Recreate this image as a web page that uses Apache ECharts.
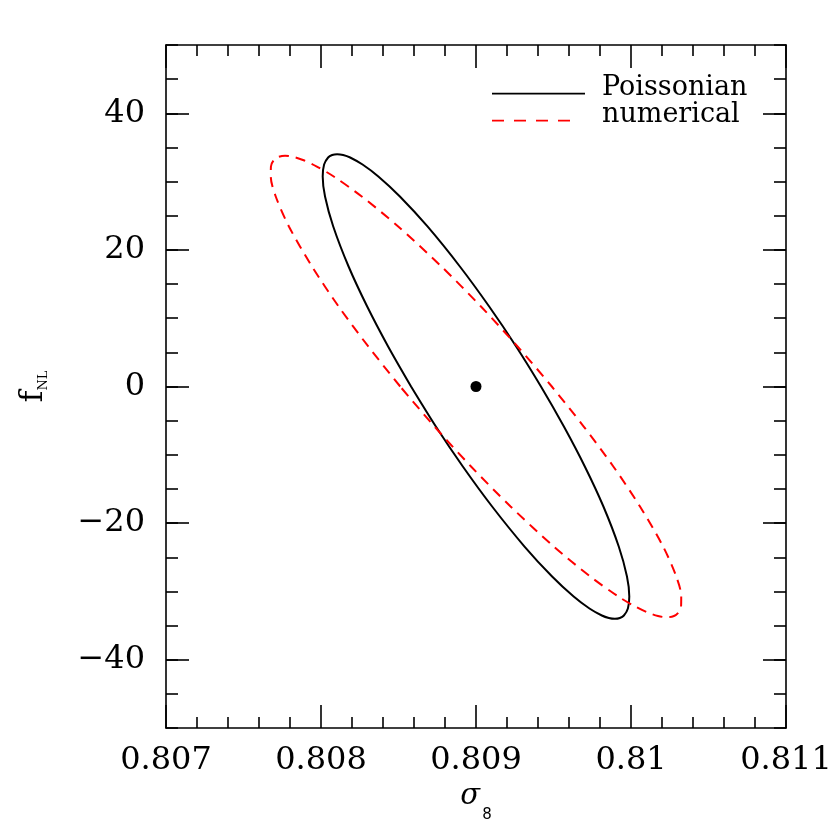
<!DOCTYPE html>
<html>
<head>
<meta charset="utf-8">
<script src="https://cdn.jsdelivr.net/npm/echarts@6/dist/echarts.min.js"></script>
<style>
  html, body { margin: 0; padding: 0; background: #fff; }
  #chart { width: 830px; height: 830px; }
</style>
</head>
<body>
<div id="chart"></div>
<script>
// tick labels
const yTicks = [-40, -20, 0, 20, 40]

// 1-sigma contours, [sigma8, fNL]
const poissonian = [
  [0.808581, 0], [0.808433, 5.86], [0.808298, 11.71], [0.808178, 17.57],
  [0.808079, 23.43], [0.808026, 27.82], [0.808011, 30.75], [0.808020, 32.50],
  [0.808046, 33.53], [0.808072, 33.90], [0.808104, 34.02], [0.808143, 33.90],
  [0.808188, 33.53], [0.808268, 32.50], [0.808370, 30.75], [0.808509, 27.82],
  [0.808687, 23.43], [0.808896, 17.57], [0.809085, 11.71], [0.809259, 5.86],
  [0.809419, 0], [0.809567, -5.86], [0.809702, -11.71], [0.809822, -17.57],
  [0.809921, -23.43], [0.809974, -27.82], [0.809989, -30.75], [0.809980, -32.50],
  [0.809954, -33.53], [0.809928, -33.90], [0.809896, -34.02], [0.809857, -33.90],
  [0.809812, -33.53], [0.809732, -32.50], [0.809630, -30.75], [0.809491, -27.82],
  [0.809313, -23.43], [0.809104, -17.57], [0.808915, -11.71], [0.808741, -5.86],
  [0.808581, 0]
]

const numerical = [
  [0.808511, 0], [0.808305, 5.86], [0.808114, 11.71], [0.807942, 17.57],
  [0.807793, 23.43], [0.807708, 27.82], [0.807676, 30.75], [0.807677, 32.21],
  [0.807694, 33.09], [0.807723, 33.60], [0.807768, 33.79], [0.807826, 33.60],
  [0.807893, 33.09], [0.807973, 32.21], [0.808082, 30.75], [0.808263, 27.82],
  [0.808498, 23.43], [0.808777, 17.57], [0.809032, 11.71], [0.809268, 5.86],
  [0.809489, 0], [0.809695, -5.86], [0.809886, -11.71], [0.810058, -17.57],
  [0.810207, -23.43], [0.810292, -27.82], [0.810324, -30.75], [0.810323, -32.21],
  [0.810306, -33.09], [0.810277, -33.60], [0.810232, -33.79], [0.810174, -33.60],
  [0.810107, -33.09], [0.810027, -32.21], [0.809918, -30.75], [0.809737, -27.82],
  [0.809502, -23.43], [0.809223, -17.57], [0.808968, -11.71], [0.808732, -5.86],
  [0.808511, 0]
]

const fiducial = [[0.809, 0]]

const font = 'DejaVu Serif'
const axisColor = '#000'

// legend keys: the line sits near the bottom of the icon box so the text
// ends up slightly above it (tiny dots only pin the box corners)
const solidKey = 'path://M0,0h.1v.1h-.1z M0,12.2h93v1.8h-93z'
const dashedKey = 'path://M0,0h.1v.1h-.1z M92.9,0h.1v.1h-.1z ' +
  'M0,12.2h12v1.8h-12z M22,12.2h12v1.8h-12z M44,12.2h12v1.8h-12z M66,12.2h12v1.8h-12z'

const chart = echarts.init(document.getElementById('chart'))

const xAxisBase = {
  type: 'value',
  min: 0.807,
  max: 0.811,
  interval: 0.001,
  axisLine: { show: true, onZero: false, lineStyle: { color: axisColor, width: 1.6 } },
  axisTick: { show: true, inside: true, length: 23, lineStyle: { color: axisColor, width: 1.6 } },
  minorTick: { show: true, splitNumber: 5, length: 11, lineStyle: { color: axisColor, width: 1.6 } },
  splitLine: { show: false },
  minorSplitLine: { show: false }
}

const yMinor = position => ({
  type: 'value',
  position: position,
  min: -50,
  max: 50,
  interval: 5,
  axisLine: { show: true, onZero: false, lineStyle: { color: axisColor, width: 1.6 } },
  axisTick: { show: true, inside: true, length: 12, lineStyle: { color: axisColor, width: 1.6 } },
  axisLabel: { show: false },
  splitLine: { show: false }
})

const yMajor = position => ({
  type: 'value',
  position: position,
  min: -50,
  max: 50,
  interval: 5,
  axisLine: { show: false, onZero: false },
  axisTick: { show: true, inside: true, length: 23, customValues: yTicks, lineStyle: { color: axisColor, width: 1.6 } },
  axisLabel: { show: false },
  splitLine: { show: false }
})

const yLeft = yMinor('left')
yLeft.axisLabel = {
  show: true,
  customValues: yTicks,
  margin: 21,
  color: '#000',
  fontFamily: font,
  fontSize: 32,
  formatter: v => (v < 0 ? '\u2212' + Math.abs(v) : String(v))
}
yLeft.name = '{f|f}{s|NL}'
yLeft.nameLocation = 'middle'
yLeft.nameRotate = 90
yLeft.nameGap = 116
yLeft.nameTextStyle = {
  rich: {
    f: { fontFamily: font, fontSize: 32, color: '#000', lineHeight: 32 },
    s: { fontFamily: font, fontSize: 13, color: '#000', lineHeight: 17, verticalAlign: 'bottom' }
  }
}

const option = {
  animation: false,
  backgroundColor: '#fff',
  grid: { left: 166, right: 44, top: 45, bottom: 102, containLabel: false, outerBoundsMode: 'none' },
  legend: {
    orient: 'vertical',
    left: 487,
    top: 69,
    itemWidth: 93,
    itemHeight: 14,
    itemGap: 0,
    selectedMode: false,
    itemStyle: { borderWidth: 0 },
    textStyle: {
      fontFamily: font,
      fontSize: 27,
      color: '#000',
      lineHeight: 27,
      padding: [0, 0, 0, 12]
    },
    data: [
      { name: 'Poissonian', icon: solidKey },
      { name: 'numerical', icon: dashedKey }
    ]
  },
  xAxis: [
    Object.assign({}, xAxisBase, {
      position: 'bottom',
      axisLabel: { margin: 17, color: '#000', fontFamily: font, fontSize: 32 },
      name: '{g|\u03c3}{s|8}',
      nameLocation: 'middle',
      nameGap: 50,
      nameTextStyle: {
        rich: {
          g: { fontFamily: font, fontStyle: 'italic', fontSize: 29, color: '#000', lineHeight: 29, verticalAlign: 'top' },
          s: { fontFamily: 'DejaVu Sans', fontSize: 15, color: '#000', lineHeight: 15, padding: [26, 0, 0, 2], verticalAlign: 'top' }
        }
      }
    }),
    Object.assign({}, xAxisBase, { position: 'top', axisLabel: { show: false } })
  ],
  yAxis: [yLeft, yMajor('left'), yMinor('right'), yMajor('right')],
  series: [
    {
      name: 'Poissonian',
      type: 'line',
      data: poissonian,
      smooth: 0.3,
      symbol: 'none',
      color: '#000',
      lineStyle: { color: '#000', width: 2 },
      silent: true
    },
    {
      name: 'numerical',
      type: 'line',
      data: numerical,
      smooth: 0.3,
      symbol: 'none',
      color: '#ff0000',
      lineStyle: { color: '#ff0000', width: 2, type: [10, 7] },
      silent: true
    },
    {
      name: 'fiducial',
      type: 'scatter',
      data: fiducial,
      symbolSize: 11,
      itemStyle: { color: '#000', opacity: 1 },
      silent: true
    }
  ]
}

chart.setOption(option)
window.addEventListener('resize', () => chart.resize())
</script>
</body>
</html>
